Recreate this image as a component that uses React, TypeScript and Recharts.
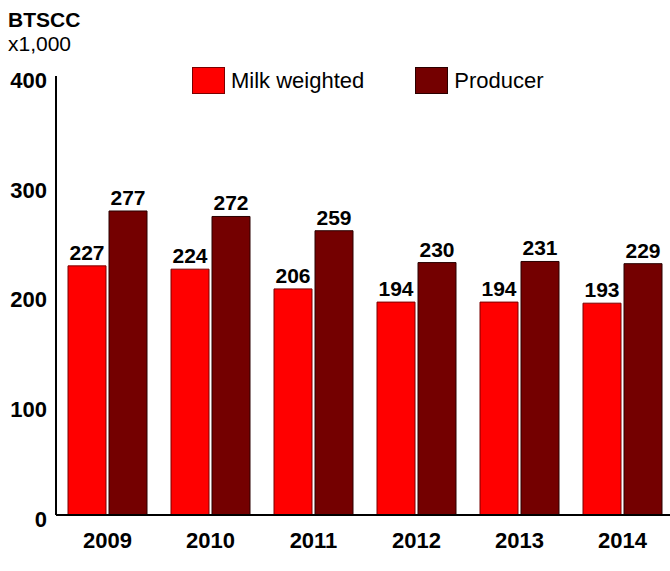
import { BarChart, Bar, XAxis, YAxis, LabelList } from "recharts";

const years = ["2009", "2010", "2011", "2012", "2013", "2014"];
const milkWeighted = [227, 224, 206, 194, 194, 193];
const producer = [277, 272, 259, 230, 231, 229];
const yTicks = [0, 100, 200, 300, 400];

const data = years.map((year, i) => ({ year, milk: milkWeighted[i], producer: producer[i] }));

const FONT = "'Liberation Sans', Arial, sans-serif";

const legendItems = [
  { label: "Milk weighted", fill: "#ff0000", stroke: "#7a0000" },
  { label: "Producer", fill: "#740000", stroke: "#2a0000" },
];

// legend sits inside the plot area, so it is drawn as an overlay
function LegendBox() {
  return (
    <div style={{ position: "absolute", left: 192, top: 67, display: "flex", alignItems: "center", fontFamily: FONT, fontSize: 22, lineHeight: "27px" }}>
      {legendItems.map((item, i) => (
        <div key={item.label} style={{ display: "flex", alignItems: "center", marginRight: i === 0 ? 51 : 0 }}>
          <span style={{ display: "inline-block", width: 31, height: 25, background: item.fill, border: `1px solid ${item.stroke}`, marginRight: 6 }} />
          <span style={{ color: "#000" }}>{item.label}</span>
        </div>
      ))}
    </div>
  );
}

export default function App() {
  return (
    <div style={{ position: "absolute", left: 0, top: 0, width: 670, height: 571, overflow: "hidden", background: "#fff", fontFamily: FONT }}>
      <div style={{ position: "absolute", left: 8, top: 8, fontSize: 21, lineHeight: "23.5px" }}>
        <b>BTSCC</b>
        <br />
        x1,000
      </div>
      <LegendBox />
      <BarChart width={674} height={571} data={data} margin={{ top: 76, right: 0, bottom: 26, left: 0 }} barSize={38} barGap={3}>
        <XAxis
          dataKey="year"
          axisLine={{ stroke: "#000", strokeWidth: 2 }}
          tickLine={false}
          tickSize={0}
          tickMargin={17}
          tick={{ fill: "#000", fontSize: 22, fontWeight: "bold", fontFamily: FONT }}
        />
        <YAxis
          width={56}
          domain={[0, 400]}
          ticks={yTicks}
          axisLine={{ stroke: "#000", strokeWidth: 2 }}
          tickLine={false}
          tickSize={0}
          tickMargin={9}
          tick={{ fill: "#000", fontSize: 22, fontWeight: "bold", fontFamily: FONT, dy: 4 }}
        />
        <Bar dataKey="milk" name="Milk weighted" fill="#ff0000" stroke="#7a0000" strokeWidth={1} isAnimationActive={false}>
          <LabelList dataKey="milk" position="top" offset={6} fill="#000" fontSize={21} fontWeight="bold" fontFamily={FONT} />
        </Bar>
        <Bar dataKey="producer" name="Producer" fill="#740000" stroke="#2a0000" strokeWidth={1} isAnimationActive={false}>
          <LabelList dataKey="producer" position="top" offset={6} fill="#000" fontSize={21} fontWeight="bold" fontFamily={FONT} />
        </Bar>
      </BarChart>
    </div>
  );
}
